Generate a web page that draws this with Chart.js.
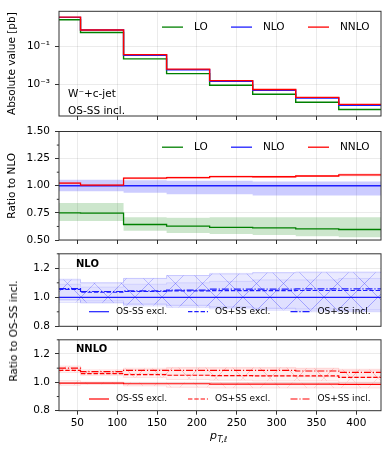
<!DOCTYPE html>
<html>
<head>
<meta charset="utf-8">
<script src="https://cdn.jsdelivr.net/npm/chart.js@4.4.1/dist/chart.umd.min.js"></script>
<style>
html, body { margin: 0; padding: 0; background: #fff; }
#wrap { position: relative; width: 390px; height: 454px; font-family: "DejaVu Sans"; }
#wrap canvas { position: absolute; left: 0; top: 0; }
.ylab { position: absolute; font-size: 10.5px; color: #000; white-space: nowrap; transform: translate(-50%, -50%) rotate(-90deg); }
</style>
</head>
<body>
<div id="wrap">
  <canvas id="c1" width="390" height="454"></canvas>
  <canvas id="c2" width="390" height="454"></canvas>
  <canvas id="c3" width="390" height="454"></canvas>
  <canvas id="c4" width="390" height="454"></canvas>
  <div class="ylab" style="left:12.5px; top:331px;">Ratio to OS-SS incl.</div>
</div>
<script>
const binEdges = [27, 54, 108, 162, 216, 270, 324, 378, 432];
const xTickValues = [50, 100, 150, 200, 250, 300, 350, 400];

// absolute values [pb]
const absLO   = [2.45, 0.527, 0.0219, 0.00369, 0.00090, 0.000303, 0.000116, 0.0000484];
const absNLO  = [3.27, 0.705, 0.0340, 0.00587, 0.00146, 0.000495, 0.000192, 0.0000810];
const absNNLO = [3.35, 0.709, 0.0364, 0.00631, 0.00158, 0.000536, 0.000209, 0.0000890];
const absTicks = [1e-3, 1e-1];

// ratio to NLO
const rLO       = [0.750, 0.748, 0.643, 0.628, 0.616, 0.612, 0.603, 0.597];
const rLOLow    = [0.675, 0.675, 0.585, 0.565, 0.555, 0.545, 0.535, 0.525];
const rLOHigh   = [0.840, 0.840, 0.710, 0.705, 0.710, 0.710, 0.710, 0.710];
const rNLO      = [1.000, 1.000, 1.000, 1.000, 1.000, 1.000, 1.000, 1.000];
const rNLOLow   = [0.950, 0.950, 0.935, 0.922, 0.922, 0.910, 0.910, 0.910];
const rNLOHigh  = [1.055, 1.055, 1.050, 1.045, 1.045, 1.040, 1.040, 1.040];
const rNNLO     = [1.025, 1.005, 1.070, 1.075, 1.085, 1.083, 1.090, 1.100];
const rNNLOLow  = [1.013, 0.995, 1.060, 1.065, 1.075, 1.073, 1.080, 1.088];
const rNNLOHigh = [1.035, 1.015, 1.080, 1.085, 1.095, 1.093, 1.100, 1.112];
const ratioTicks = [0.50, 0.75, 1.00, 1.25, 1.50];
const ratioMinor = [0.625, 0.875, 1.125, 1.375];

// NLO, ratio to OS-SS incl.
const nloSSexcl      = [1.000, 1.000, 1.000, 1.000, 1.000, 1.000, 1.000, 1.000];
const nloSSexclLow   = [0.965, 0.975, 0.955, 0.945, 0.935, 0.925, 0.920, 0.915];
const nloSSexclHigh  = [1.090, 1.070, 1.090, 1.100, 1.110, 1.120, 1.120, 1.130];
const nloPSexcl      = [1.055, 1.035, 1.040, 1.045, 1.046, 1.046, 1.047, 1.047];
const nloPSexclLow   = [0.980, 0.960, 0.940, 0.930, 0.920, 0.910, 0.900, 0.900];
const nloPSexclHigh  = [1.120, 1.100, 1.130, 1.150, 1.160, 1.170, 1.170, 1.170];
const nloPSincl      = [1.060, 1.040, 1.045, 1.050, 1.056, 1.057, 1.058, 1.058];
const nloPSinclLow   = [0.985, 0.965, 0.950, 0.940, 0.930, 0.920, 0.910, 0.905];
const nloPSinclHigh  = [1.125, 1.100, 1.130, 1.150, 1.165, 1.170, 1.175, 1.175];

// NNLO, ratio to OS-SS incl.
const nnloSSexcl     = [0.995, 0.995, 0.990, 0.990, 0.988, 0.988, 0.987, 0.985];
const nnloSSexclLow  = [0.980, 0.985, 0.975, 0.965, 0.960, 0.960, 0.960, 0.960];
const nnloSSexclHigh = [1.012, 1.002, 1.000, 1.000, 0.998, 0.998, 0.997, 0.995];
const nnloPSexcl     = [1.085, 1.062, 1.055, 1.050, 1.048, 1.045, 1.045, 1.035];
const nnloPSexclLow  = [1.070, 1.050, 1.035, 1.020, 1.015, 1.010, 1.010, 1.000];
const nnloPSexclHigh = [1.100, 1.075, 1.090, 1.100, 1.100, 1.100, 1.095, 1.085];
const nnloPSincl     = [1.100, 1.075, 1.085, 1.085, 1.085, 1.085, 1.080, 1.070];
const nnloPSinclLow  = [1.085, 1.063, 1.060, 1.050, 1.045, 1.045, 1.040, 1.035];
const nnloPSinclHigh = [1.115, 1.088, 1.100, 1.105, 1.105, 1.105, 1.100, 1.092];
const chanTicks = [0.8, 1.0, 1.2];
const chanMinor = [0.9, 1.1, 1.3];

const GREEN = 'rgb(0,128,0)';
const BLUE = 'rgb(30,30,255)';
const RED = 'rgb(255,0,0)';
const FONT = 'DejaVu Sans';

// histogram points: value at every left edge, repeated at the last edge
function steps(vals) {
    const pts = vals.map((v, i) => ({ x: binEdges[i], y: v }));
    pts.push({ x: binEdges[binEdges.length - 1], y: vals[vals.length - 1] });
    return pts;
}

function line(vals, color, width, dash) {
    return { data: steps(vals), borderColor: color, borderWidth: width, borderDash: dash || [],
             stepped: true, pointRadius: 0, fill: false };
}

function band(lo, hi, fillStyle, edge) {
    return [
        { data: steps(hi), borderColor: edge || 'transparent', borderWidth: 0.8, backgroundColor: fillStyle,
          fill: '+1', stepped: true, pointRadius: 0 },
        { data: steps(lo), borderColor: edge || 'transparent', borderWidth: 0.8,
          fill: false, stepped: true, pointRadius: 0 }
    ];
}

function hatch(fill, stroke) {
    const s = 27;
    const c = document.createElement('canvas');
    c.width = s; c.height = s;
    const g = c.getContext('2d');
    g.fillStyle = fill;
    g.fillRect(0, 0, s, s);
    g.strokeStyle = stroke;
    g.lineWidth = 1;
    g.beginPath();
    g.moveTo(0, 0); g.lineTo(s, s);
    g.moveTo(s, 0); g.lineTo(0, s);
    g.stroke();
    return g.createPattern(c, 'repeat');
}

// box, minor ticks, labels and legend
const decor = {
    id: 'decor',
    afterDatasetsDraw(chart, args, opts) {
        const a = chart.chartArea;
        const ctx = chart.ctx;
        ctx.save();
        ctx.strokeStyle = '#333';
        ctx.lineWidth = 1;
        ctx.setLineDash([]);
        ctx.strokeRect(a.left, a.top, a.right - a.left, a.bottom - a.top);
        (opts.minor || []).forEach(v => {
            const y = chart.scales.y.getPixelForValue(v);
            ctx.beginPath();
            ctx.moveTo(a.left, y);
            ctx.lineTo(a.left - 2.2, y);
            ctx.stroke();
        });
        ctx.fillStyle = '#000';
        ctx.textBaseline = 'middle';
        ctx.textAlign = 'left';
        (opts.texts || []).forEach(t => {
            ctx.font = t.font;
            ctx.fillText(t.text, a.left + t.dx, a.top + t.dy);
        });
        (opts.legend || []).forEach(it => {
            const x = a.left + it.dx;
            const y = it.fromBottom ? a.bottom - it.dy : a.top + it.dy;
            ctx.strokeStyle = it.color;
            ctx.lineWidth = it.width || 1.3;
            ctx.setLineDash(it.dash || []);
            ctx.beginPath();
            ctx.moveTo(x, y);
            ctx.lineTo(x + it.len, y);
            ctx.stroke();
            ctx.setLineDash([]);
            ctx.font = it.font;
            ctx.fillStyle = '#000';
            ctx.fillText(it.label, x + it.textDx, y);
        });
        if (opts.xTitle) {
            const cx = (a.left + a.right) / 2;
            const y = opts.xTitle.y;
            ctx.font = 'italic 11px "' + FONT + '"';
            const pw = ctx.measureText('p').width;
            ctx.textBaseline = 'alphabetic';
            ctx.fillText('p', cx - 10, y);
            ctx.font = 'italic 8px "' + FONT + '"';
            ctx.fillText('T,ℓ', cx - 10 + pw + 0.5, y + 2.5);
        }
        ctx.restore();
    }
};

function xScale(showLabels) {
    return {
        type: 'linear', min: 27, max: 431,
        afterBuildTicks: s => { s.ticks = xTickValues.map(v => ({ value: v })); },
        afterFit: s => { s.height = showLabels ? 26 : 4; },
        grid: { color: 'rgba(0,0,0,0.08)', tickColor: '#333', tickLength: 4, drawTicks: true },
        border: { display: false },
        ticks: { display: showLabels, color: '#000', font: { family: FONT, size: 10.5 }, padding: 2, maxRotation: 0 }
    };
}

function yScale(o) {
    const s = {
        type: o.type || 'linear', min: o.min, max: o.max, position: 'left',
        afterFit: sc => { sc.width = 59; },
        afterBuildTicks: sc => { sc.ticks = o.ticks.map(v => ({ value: v })); },
        grid: { color: 'rgba(0,0,0,0.08)', tickColor: '#333', tickLength: 4, drawTicks: true },
        border: { display: false },
        ticks: { callback: o.fmt, color: '#000', font: { family: FONT, size: 10.5 }, padding: 5 }
    };
    if (o.title) {
        s.title = { display: true, text: o.title, color: '#000', font: { family: FONT, size: 10.5 }, padding: { top: 6, bottom: 0 } };
    }
    return s;
}

function makeChart(id, datasets, top, bottom, xLabels, y, decorOpts) {
    const xh = xLabels ? 26 : 4;
    return new Chart(document.getElementById(id), {
        type: 'line',
        data: { datasets: datasets },
        plugins: [decor],
        options: {
            responsive: false,
            animation: false,
            layout: { padding: { left: 0, right: 9, top: top, bottom: 454 - bottom - xh } },
            plugins: { legend: { display: false }, tooltip: { enabled: false }, decor: decorOpts },
            scales: { x: xScale(xLabels), y: yScale(y) }
        }
    });
}

const bigLegend = (dy) => [
    { label: 'LO', color: GREEN, dx: 103, dy: dy, len: 21, textDx: 32, font: '10.5px "' + FONT + '"' },
    { label: 'NLO', color: BLUE, dx: 172, dy: dy, len: 21, textDx: 32, font: '10.5px "' + FONT + '"' },
    { label: 'NNLO', color: RED, dx: 249, dy: dy, len: 21, textDx: 32, font: '10.5px "' + FONT + '"' }
];

const smallLegend = (color, dy) => [
    { label: 'OS-SS excl.', color: color, dx: 30, dy: dy, fromBottom: true, len: 20, textDx: 27, width: 1.2, font: '9px "' + FONT + '"' },
    { label: 'OS+SS excl.', color: color, dx: 129, dy: dy, fromBottom: true, len: 20, textDx: 27, width: 1.2, dash: [4.4, 1.9], font: '9px "' + FONT + '"' },
    { label: 'OS+SS incl.', color: color, dx: 231.5, dy: dy, fromBottom: true, len: 20, textDx: 27, width: 1.2, dash: [7, 1.9, 1.2, 1.9], font: '9px "' + FONT + '"' }
];

// panel 1: absolute values
const logLabels = { 0.1: '10⁻¹', 0.001: '10⁻³' };
makeChart('c1', [
    line(absNNLO, RED, 1.4),
    line(absNLO, BLUE, 1.4),
    line(absLO, GREEN, 1.4)
], 7.5, 116, false,
    { type: 'logarithmic', min: 2.2e-5, max: 6.8, ticks: absTicks, fmt: v => logLabels[v] || '', title: 'Absolute value [pb]' },
    { legend: bigLegend(15.8),
      texts: [
        { text: 'W⁻+c-jet', dx: 9, dy: 83.2, font: '10.5px "' + FONT + '"' },
        { text: 'OS-SS incl.', dx: 9, dy: 99.8, font: '10.5px "' + FONT + '"' }
      ] });

// panel 2: ratio to NLO
makeChart('c2', [
    line(rNNLO, RED, 1.3),
    line(rNLO, BLUE, 1.3),
    line(rLO, GREEN, 1.3),
    ...band(rNNLOLow, rNNLOHigh, 'rgba(255,0,0,0.2)'),
    ...band(rNLOLow, rNLOHigh, 'rgba(0,0,255,0.2)'),
    ...band(rLOLow, rLOHigh, 'rgba(0,128,0,0.2)')
], 131.5, 240, false,
    { min: 0.5, max: 1.5, ticks: ratioTicks, fmt: v => v.toFixed(2), title: 'Ratio to NLO' },
    { legend: bigLegend(15.7), minor: ratioMinor });

// panel 3: NLO channels
const blueHatch = () => hatch('rgba(0,0,255,0.045)', 'rgba(110,110,255,0.22)');
makeChart('c3', [
    line(nloSSexcl, BLUE, 1.2),
    line(nloPSexcl, BLUE, 1.2, [4.4, 1.9]),
    line(nloPSincl, BLUE, 1.2, [7, 1.9, 1.2, 1.9]),
    ...band(nloSSexclLow, nloSSexclHigh, blueHatch(), 'rgba(120,120,255,0.25)'),
    ...band(nloPSexclLow, nloPSexclHigh, blueHatch(), 'rgba(120,120,255,0.25)'),
    ...band(nloPSinclLow, nloPSinclHigh, blueHatch(), 'rgba(120,120,255,0.25)')
], 253.8, 326.3, false,
    { min: 0.8, max: 1.3, ticks: chanTicks, fmt: v => v.toFixed(1) },
    { legend: smallLegend(BLUE, 14.6), minor: chanMinor,
      texts: [{ text: 'NLO', dx: 17, dy: 10.5, font: 'bold 10px "' + FONT + '"' }] });

// panel 4: NNLO channels
const redHatch = () => hatch('rgba(255,0,0,0.045)', 'rgba(255,110,110,0.22)');
makeChart('c4', [
    line(nnloSSexcl, RED, 1.2),
    line(nnloPSexcl, RED, 1.2, [4.4, 1.9]),
    line(nnloPSincl, RED, 1.2, [7, 1.9, 1.2, 1.9]),
    ...band(nnloSSexclLow, nnloSSexclHigh, redHatch(), 'rgba(255,120,120,0.25)'),
    ...band(nnloPSexclLow, nnloPSexclHigh, redHatch(), 'rgba(255,120,120,0.25)'),
    ...band(nnloPSinclLow, nnloPSinclHigh, redHatch(), 'rgba(255,120,120,0.25)')
], 339.8, 410.7, true,
    { min: 0.8, max: 1.3, ticks: chanTicks, fmt: v => v.toFixed(1) },
    { legend: smallLegend(RED, 11.7), minor: chanMinor,
      texts: [{ text: 'NNLO', dx: 17, dy: 9.5, font: 'bold 10px "' + FONT + '"' }],
      xTitle: { y: 439 } });
</script>
</body>
</html>
